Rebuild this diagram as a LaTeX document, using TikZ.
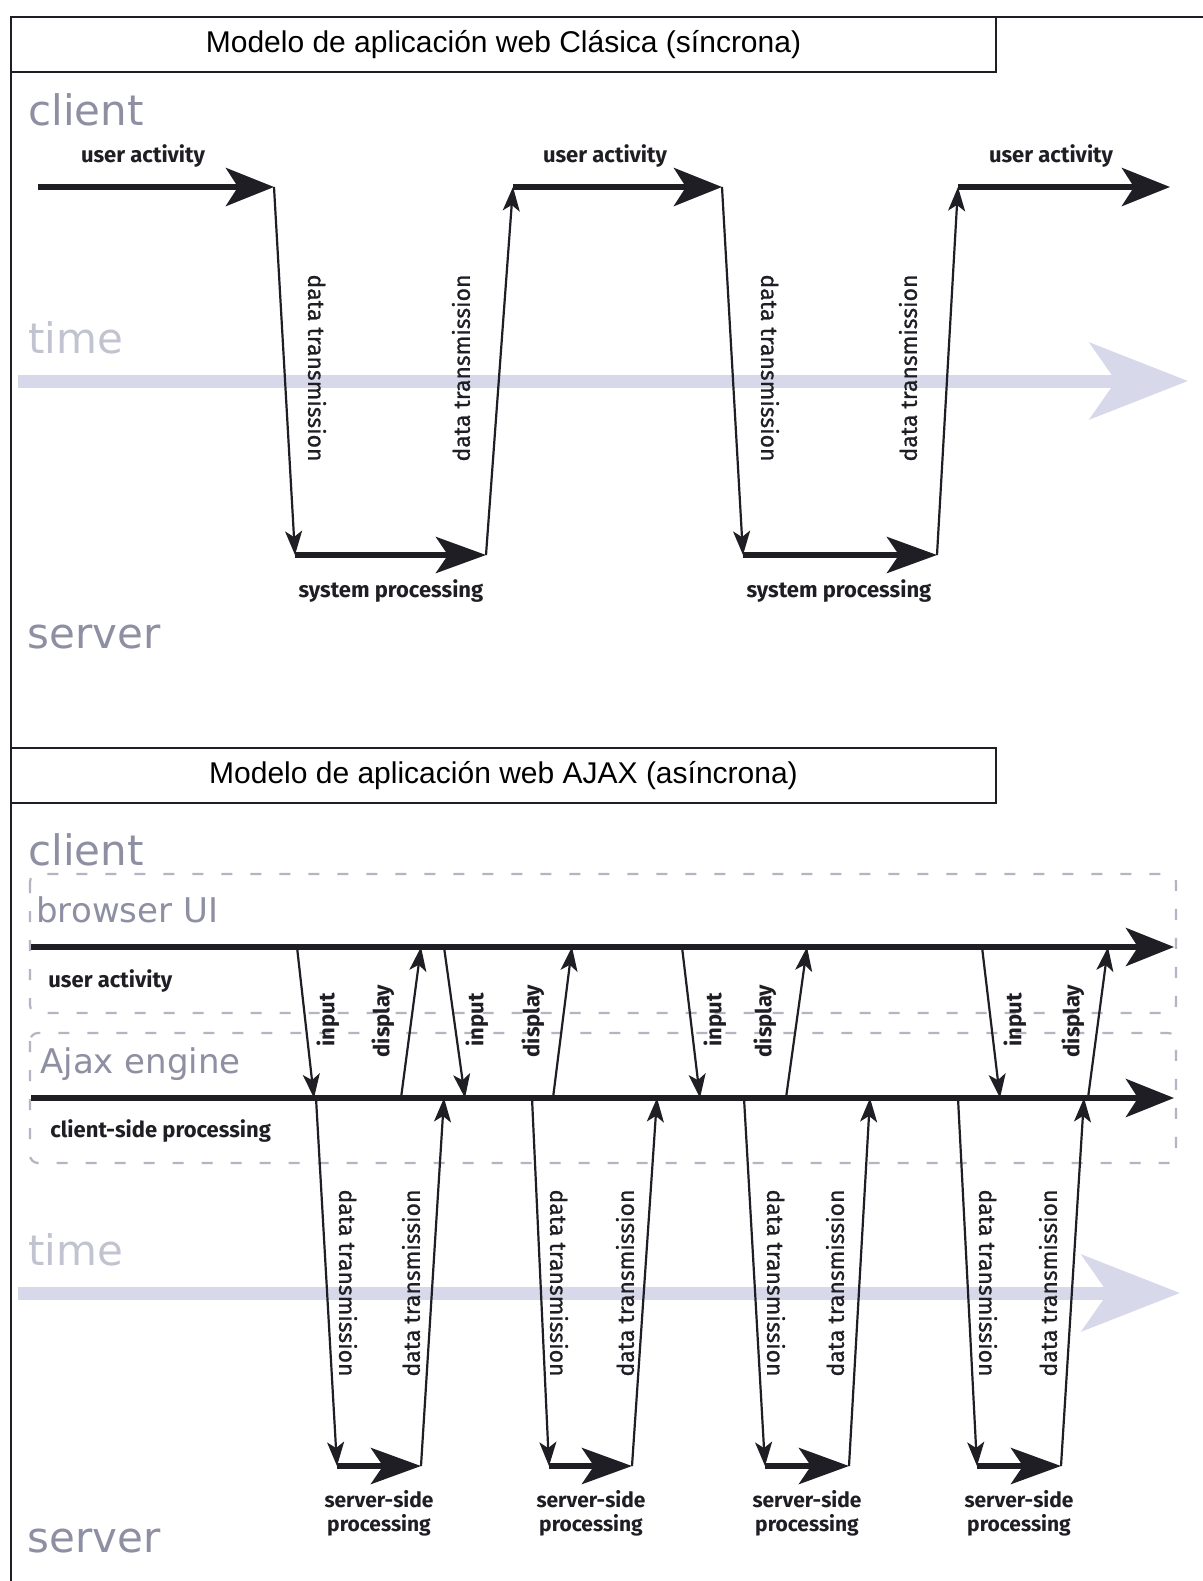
\documentclass[tikz,border=0pt]{standalone}
\usepackage{fontspec}
\setmainfont{Liberation Sans}
\newfontfamily\lanefont{DejaVu Sans}
\newfontfamily\lblfont{Fira Sans}
\newfontfamily\lblmedfont{Fira Sans}[FakeBold=0.8]
\usetikzlibrary{arrows.meta}

\definecolor{ink}{HTML}{1E1E24}
\definecolor{lanegrey}{HTML}{8E8FA3}
\definecolor{timegrey}{HTML}{C2C3D1}
\definecolor{timeband}{HTML}{D7D8EA}
\definecolor{dashgrey}{HTML}{B4B5C2}

\begin{document}
\begin{tikzpicture}[x=0.5pt,y=-0.5pt,
  frame/.style={draw=ink,line width=1pt},
  titlebox/.style={draw=ink,line width=1pt,minimum width=492.5pt,minimum height=27.5pt,
    inner sep=0pt,font=\fontsize{15}{18}\selectfont},
  mainflow/.style={draw=ink,line width=3pt,-{Stealth[length=24pt,width=19pt,inset=6pt]}},
  procflow/.style={draw=ink,line width=3pt,-{Stealth[length=25pt,width=18pt,inset=6pt]}},
  link/.style={draw=ink,line width=1.1pt,-{Stealth[length=12pt,width=8.5pt,inset=3pt]}},
  timearrow/.style={draw=timeband,line width=6.5pt,-{Stealth[length=49pt,width=38pt,inset=13pt]}},
  lane/.style={draw=dashgrey,line width=1.1pt,dash pattern=on 5.5pt off 9pt,rounded corners=4pt},
  zone/.style={text=lanegrey,font=\lanefont\fontsize{21}{24}\selectfont,anchor=base west,inner sep=0pt},
  subzone/.style={zone,font=\lanefont\fontsize{17}{20}\selectfont},
  timelbl/.style={zone,text=timegrey},
  lbl/.style={text=ink,font=\lblfont\bfseries\fontsize{11}{12}\selectfont,inner sep=0pt},
  vlbl/.style={text=ink,font=\lblmedfont\fontsize{11.5}{12}\selectfont,inner sep=0pt},
  twoline/.style={lbl,align=center,anchor=north,font=\lblfont\bfseries\fontsize{10.5}{12}\selectfont}
]
\useasboundingbox[fill=white] (0,0) rectangle (1203,1581);

% ---------- outer frame and titles ----------
\draw[frame] (1203,17) -- (11,17) -- (11,1581);
\node[titlebox] (title1) at (503.5,44.5) {Modelo de aplicación web Clásica (síncrona)};
\node[titlebox] (title2) at (503.5,775.5) {Modelo de aplicación web AJAX (asíncrona)};

% ---------- classic model ----------
\coordinate (t1s) at (18,381);
\coordinate (t1e) at (1188,381);
\draw[timearrow] (t1s) -- (t1e);

\node[zone] (cl1) at (28,125) {client};
\node[timelbl] (tm1) at (28,353) {time};
\node[zone] (sv1) at (27,648) {server};

\coordinate (u1s) at (38,187);
\coordinate (u1e) at (274,187);
\coordinate (s1s) at (295,555);
\coordinate (s1e) at (486,555);
\coordinate (u2s) at (513,187);
\coordinate (u2e) at (722,187);
\coordinate (s2s) at (743,555);
\coordinate (s2e) at (937,555);
\coordinate (u3s) at (958,187);
\coordinate (u3e) at (1170,187);

\draw[mainflow] (u1s) -- (u1e);
\draw[link] (u1e) -- (s1s);
\draw[procflow] (s1s) -- (s1e);
\draw[link] (s1e) -- (u2s);
\draw[mainflow] (u2s) -- (u2e);
\draw[link] (u2e) -- (s2s);
\draw[procflow] (s2s) -- (s2e);
\draw[link] (s2e) -- (u3s);
\draw[mainflow] (u3s) -- (u3e);

\node[lbl,anchor=base] (ua1) at (143,162) {user activity};
\node[lbl,anchor=base] (ua2) at (605,162) {user activity};
\node[lbl,anchor=base] (ua3) at (1051,162) {user activity};
\node[vlbl,rotate=-90] (dt1) at (317,368) {data transmission};
\node[vlbl,rotate=90] (dt2) at (461,368) {data transmission};
\node[vlbl,rotate=-90] (dt3) at (770,368) {data transmission};
\node[vlbl,rotate=90] (dt4) at (908,368) {data transmission};
\node[lbl,anchor=base] (sp1) at (391,597) {system processing};
\node[lbl,anchor=base] (sp2) at (839,597) {system processing};

% ---------- AJAX model ----------
\coordinate (t2s) at (18,1293);
\coordinate (t2e) at (1180,1293);
\draw[timearrow] (t2s) -- (t2e);

\draw[lane] (30,874) rectangle (1176,1013);
\draw[lane] (30,1033) rectangle (1176,1163);

\node[zone] (cl2) at (28,865) {client};
\node[subzone] (bui) at (36,922) {browser UI};
\node[subzone] (aje) at (40,1073) {Ajax engine};
\node[timelbl] (tm2) at (28,1265) {time};
\node[zone] (sv2) at (27,1552) {server};

\coordinate (bu0) at (31,947);
\coordinate (bu1) at (1174,947);
\coordinate (ae0) at (31,1098);
\coordinate (ae1) at (1174,1098);
\draw[mainflow] (bu0) -- (bu1);
\draw[mainflow] (ae0) -- (ae1);

\node[lbl,anchor=base west] (ua4) at (48,987) {user activity};
\node[lbl,anchor=base west] (csp) at (50,1137) {client-side processing};

% input / display exchanges between browser UI and Ajax engine
\coordinate (in1a) at (297,947);  \coordinate (in1b) at (314,1098);
\coordinate (dp1a) at (401,1098); \coordinate (dp1b) at (421,947);
\coordinate (in2a) at (444,947);  \coordinate (in2b) at (465,1098);
\coordinate (dp2a) at (553,1098); \coordinate (dp2b) at (572,947);
\coordinate (in3a) at (682,947);  \coordinate (in3b) at (700,1098);
\coordinate (dp3a) at (786,1098); \coordinate (dp3b) at (807,947);
\coordinate (in4a) at (982,947);  \coordinate (in4b) at (1000,1098);
\coordinate (dp4a) at (1088,1098);\coordinate (dp4b) at (1108,947);

\foreach \k in {1,2,3,4}{
  \draw[link] (in\k a) -- (in\k b);
  \draw[link] (dp\k a) -- (dp\k b);
}

\node[lbl,rotate=90] (il1) at (328,1020) {input};
\node[lbl,rotate=90] (dl1) at (383,1021) {display};
\node[lbl,rotate=90] (il2) at (477,1020) {input};
\node[lbl,rotate=90] (dl2) at (533,1021) {display};
\node[lbl,rotate=90] (il3) at (715,1020) {input};
\node[lbl,rotate=90] (dl3) at (765,1021) {display};
\node[lbl,rotate=90] (il4) at (1015,1020) {input};
\node[lbl,rotate=90] (dl4) at (1073,1021) {display};

% round trips from the Ajax engine to the server
\coordinate (g1a) at (316,1098);  \coordinate (g1b) at (337,1466);
\coordinate (g1c) at (421,1466);  \coordinate (g1d) at (444,1098);
\coordinate (g2a) at (532,1098);  \coordinate (g2b) at (549,1466);
\coordinate (g2c) at (632,1466);  \coordinate (g2d) at (657,1098);
\coordinate (g3a) at (744,1098);  \coordinate (g3b) at (765,1466);
\coordinate (g3c) at (849,1466);  \coordinate (g3d) at (870,1098);
\coordinate (g4a) at (958,1098);  \coordinate (g4b) at (977,1466);
\coordinate (g4c) at (1061,1466); \coordinate (g4d) at (1084,1098);

\foreach \k in {1,2,3,4}{
  \draw[link] (g\k a) -- (g\k b);
  \draw[procflow] (g\k b) -- (g\k c);
  \draw[link] (g\k c) -- (g\k d);
}

\node[vlbl,rotate=-90] (gd1) at (348,1283) {data transmission};
\node[vlbl,rotate=90]  (gu1) at (411,1283) {data transmission};
\node[vlbl,rotate=-90] (gd2) at (559,1283) {data transmission};
\node[vlbl,rotate=90]  (gu2) at (625,1283) {data transmission};
\node[vlbl,rotate=-90] (gd3) at (776,1283) {data transmission};
\node[vlbl,rotate=90]  (gu3) at (835,1283) {data transmission};
\node[vlbl,rotate=-90] (gd4) at (988,1283) {data transmission};
\node[vlbl,rotate=90]  (gu4) at (1048,1283) {data transmission};

\node[twoline] (ssp1) at (379,1490) {server-side\\processing};
\node[twoline] (ssp2) at (591,1490) {server-side\\processing};
\node[twoline] (ssp3) at (807,1490) {server-side\\processing};
\node[twoline] (ssp4) at (1019,1490) {server-side\\processing};
\end{tikzpicture}
\end{document}
